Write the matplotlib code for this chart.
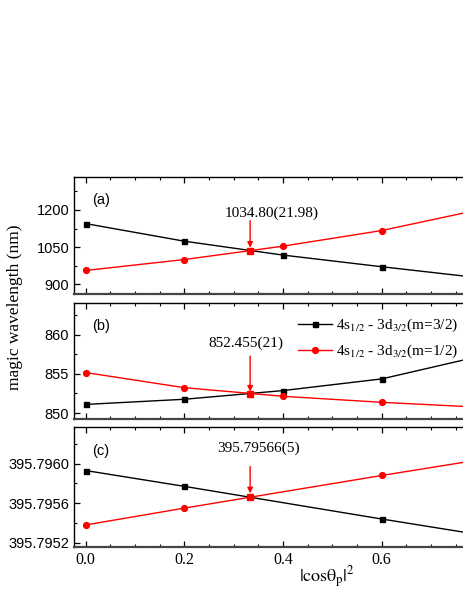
import numpy as np
import matplotlib.pyplot as plt
from matplotlib.ticker import MultipleLocator, FormatStrFormatter

plt.rcParams['mathtext.fontset'] = 'stix'

# data
x_ab = [0.0, 0.2, 0.4, 0.6, 0.8]
black_a = [1145, 1074, 1018, 971, 926]
red_a = [956, 1000, 1054, 1117, 1202]
black_b = [851.10, 851.76, 852.87, 854.36, 857.27]
red_b = [855.17, 853.24, 852.14, 851.37, 850.74]
x_c = [0.0, 0.2, 0.6, 0.8]
black_c = [395.79593, 395.79577, 395.79544, 395.79528]
red_c = [395.79538, 395.79555, 395.79588, 395.79604]
magic_x = 1 / 3
magic_y = [1034.80, 852.455, 395.79566]
magic_txt = ['1034.80(21.98)', '852.455(21)', '395.79566(5)']
panel_lbl = ['(a)', '(b)', '(c)']
leg_lbl = [r'4s$_{1/2}$ - 3d$_{3/2}$(m=3/2)', r'4s$_{1/2}$ - 3d$_{3/2}$(m=1/2)']

W, H = 463, 599
fig = plt.figure(figsize=(W / 100, H / 100), dpi=100)

def px_axes(top, bottom, left=74, right=468):
    return fig.add_axes([left / W, 1 - bottom / H, (right - left) / W, (bottom - top) / H])

axes = [px_axes(177, 294), px_axes(303, 419.3), px_axes(427, 546.7)]
series = [(x_ab, black_a, red_a), (x_ab, black_b, red_b), (x_c, black_c, red_c)]
ylims = [(861, 1333), (849.2, 864.06), (395.79516, 395.79637)]
ymaj = [150, 5, 0.0004]
# text position, arrow start, arrow tip (data)
txt_pos = [(0.378, 1173), (0.324, 858.46), (0.351, 395.79612)]
arr = [(1157, 1048), (857.27, 852.75), (395.79597, 395.79570)]

sans = 'Liberation Sans'
serif = 'Liberation Serif'

for i, ax in enumerate(axes):
    xs, bk, rd = series[i]
    ax.plot(xs, bk, '-s', color='black', lw=1.0, ms=3.6, label=leg_lbl[0])
    ax.plot(xs, rd, '-o', color='red', lw=1.0, ms=4.2, label=leg_lbl[1])
    ax.plot([magic_x], [magic_y[i]], 's', color='red', ms=4.6)
    ax.set_xlim(-0.0237, 0.775)
    ax.set_ylim(*ylims[i])
    ax.xaxis.set_major_locator(MultipleLocator(0.2))
    ax.xaxis.set_minor_locator(MultipleLocator(0.05))
    ax.yaxis.set_major_locator(MultipleLocator(ymaj[i]))
    ax.yaxis.set_minor_locator(MultipleLocator(ymaj[i] / 2))
    if i == 2:
        ax.yaxis.set_major_formatter(FormatStrFormatter('%.4f'))
    ax.tick_params(which='both', direction='in', top=True, right=False)
    ax.tick_params(which='major', length=4, width=0.9)
    ax.tick_params(which='minor', length=2.5, width=0.8)
    ax.spines['right'].set_visible(False)
    for s in ['left', 'top']:
        ax.spines[s].set_linewidth(1.0)
    ax.spines['bottom'].set_linewidth(1.6)
    ax.spines['bottom'].set_color('#444444')
    for lab in ax.get_yticklabels():
        lab.set_fontfamily(sans)
        lab.set_fontsize(10.5)
    if i < 2:
        ax.tick_params(axis='x', labelbottom=False)
    else:
        for lab in ax.get_xticklabels():
            lab.set_fontfamily(serif)
            lab.set_fontsize(11.5)
    ax.text(0.047, 0.80, panel_lbl[i], transform=ax.transAxes, fontsize=10.5,
            family=sans, ha='left', va='center')
    ax.text(txt_pos[i][0], txt_pos[i][1], magic_txt[i], fontsize=11, family=serif,
            ha='center', va='baseline')
    ax.annotate('', xy=(magic_x, arr[i][1]), xytext=(magic_x, arr[i][0]),
                arrowprops=dict(arrowstyle='-|>', color='red', lw=1.0,
                                mutation_scale=8, shrinkA=0, shrinkB=0))
    if i == 1:
        ax.legend(loc='upper left', bbox_to_anchor=(0.569, 0.88), frameon=False,
                  borderpad=0, borderaxespad=0, handlelength=2.2,
                  handletextpad=0.3, labelspacing=0.55,
                  prop={'family': serif, 'size': 11})

fig.text(15 / W, 1 - 307 / H, 'magic wavelength (nm)', rotation=90, ha='center',
         va='center', family=serif, fontsize=12.5)
fig.text(327 / W, 1 - 577 / H, r'$|\mathrm{cos\theta_p}|^2$', ha='center', va='center',
         fontsize=13)

fig.savefig('out.png', dpi=100)
